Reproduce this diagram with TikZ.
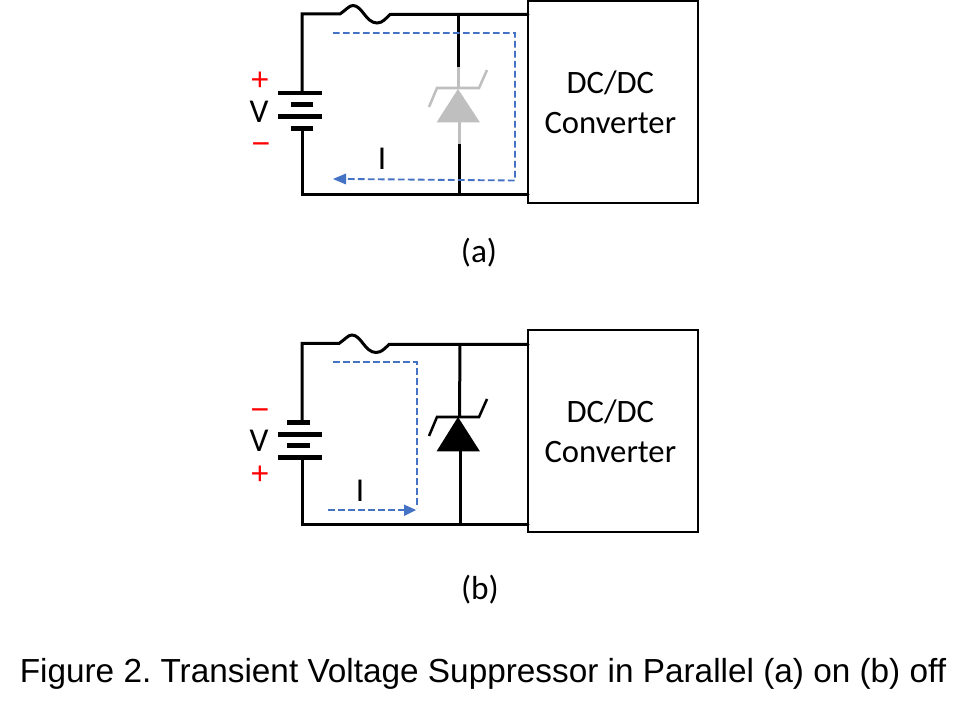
\documentclass[tikz,border=0pt]{standalone}
\usepackage{fontspec}
\setmainfont{Carlito}
\newfontfamily\capfont{Liberation Sans}
\usetikzlibrary{arrows.meta}
\definecolor{flow}{HTML}{4472C4}
\definecolor{offgrey}{HTML}{BFBFBF}
\tikzset{
 x=0.75pt,y=-0.75pt,
 wire/.style={line width=2.25pt,black,line cap=round},
 thin wire/.style={line width=1.9pt,black},
 battlong/.style={line width=3.3pt,black},
 flowline/.style={line width=1.4pt,flow,dash pattern=on 5pt off 2.5pt},
 flowtip/.style={flow,line width=0pt,fill=flow},
 conv/.style={draw=black,line width=1.4pt,fill=white,minimum width=127.5pt,minimum height=151.5pt,inner sep=0pt,align=center,font=\fontsize{24.5}{30}\selectfont},
 lab/.style={inner sep=0pt,font=\fontsize{25}{28}\selectfont},
 sublab/.style={inner sep=0pt,font=\fontsize{25}{28}\selectfont},
 sign/.style={inner sep=0pt,text=red,font=\capfont\fontsize{24}{24}\selectfont},
 captext/.style={inner sep=0pt,font=\capfont\fontsize{25}{28}\selectfont},
}
\begin{document}
\frenchspacing
\begin{tikzpicture}
\useasboundingbox[fill=white] (0,0) rectangle (968,712);

% ---------- (a) ----------
\node[conv] (boxa) at (613,102) {DC/DC\kern4pt\\Converter\kern4pt};
\coordinate (atl) at (302,14);
\coordinate (abl) at (302,194.5);
\coordinate (afa) at (340,14);
\coordinate (afb) at (390,14.5);
\coordinate (atr) at (528,14.5);
\coordinate (abr) at (528,194.5);
\coordinate (ab1) at (302,93);
\coordinate (ab4) at (302,128);
\coordinate (atvt) at (458.5,14.5);
\coordinate (atvg) at (458.5,67);
\coordinate (atva) at (458.5,89);
\coordinate (atvb) at (459.5,122);
\coordinate (atvc) at (459.5,144);
\coordinate (atvd) at (459.5,194.5);
\draw[wire] (ab1) -- (atl) -- (afa)
  .. controls (346,10) and (349,5.5) .. (353,5.5)
  .. controls (362,5.5) and (366,23) .. (377,23)
  .. controls (383,23) and (386,18) .. (afb) -- (atr);
\draw[wire] (ab4) -- (abl) -- (abr);
\draw[battlong] (278,93) -- (322,93) (278,116.5) -- (322,116.5);
\draw[battlong] (291,104.5) -- (313,104.5) (291,128.5) -- (313,128.5);
\draw[wire,line cap=butt] (atvt) -- (atvg);
\draw[wire,line cap=butt] (atvc) -- (atvd);
\draw[line width=2.25pt,offgrey] (atvg) -- (atva) (atvb) -- (atvc);
\draw[line width=1.9pt,offgrey] (429,107) -- (437,88) -- (479,88) -- (487,70);
\fill[offgrey] (458,89) -- (480,122.5) -- (436.5,122.5) -- cycle;
\coordinate (afs) at (333,33);
\coordinate (afc1) at (515,33);
\coordinate (afc2) at (515,180.5);
\coordinate (afe) at (345,179);
\coordinate (aft) at (333,179);
\draw[flowline] (afs) -- (afc1) -- (afc2) -- (afe);
\fill[flowtip] (aft) -- (346,173.5) -- (346,184.5) -- cycle;
\node[sign] (ap) at (260,81.5) {+};
\node[lab] (av) at (259,112) {V};
\node[sign] (am) at (261,149) {−};
\node[lab] (ai) at (382,159) {I};
\node[sublab] (la) at (479,253) {(a)};

% ---------- (b) ----------
\node[conv] (boxb) at (613,431) {DC/DC\kern4pt\\Converter\kern4pt};
\coordinate (btl) at (302,343.5);
\coordinate (bbl) at (302,524.5);
\coordinate (bfa) at (339,343.5);
\coordinate (bfb) at (389,344.5);
\coordinate (btr) at (528,344.5);
\coordinate (bbr) at (528,524.5);
\coordinate (bb1) at (302,422);
\coordinate (bb4) at (302,458);
\coordinate (btvt) at (460,344.5);
\coordinate (btva) at (459.5,417);
\coordinate (btvb) at (460,451);
\coordinate (btvd) at (460,524.5);
\draw[wire] (bb1) -- (btl) -- (bfa)
  .. controls (345,339.5) and (348,335) .. (352,335)
  .. controls (361,335) and (365,352.5) .. (376,352.5)
  .. controls (382,352.5) and (385,348) .. (bfb) -- (btr);
\draw[wire] (bb4) -- (bbl) -- (bbr);
\draw[battlong] (278,434.5) -- (322,434.5) (278,457.5) -- (322,457.5);
\draw[battlong] (287,422.5) -- (310,422.5) (287,445.5) -- (310,445.5);
\draw[wire,line cap=butt] (btvt) -- (btva);
\draw[wire,line cap=butt] (btvb) -- (btvd);
\draw[thin wire] (429,436) -- (437,417) -- (479,417) -- (487,399);
\fill[black] (458,417) -- (480,451.5) -- (436.5,451.5) -- cycle;
\coordinate (bfs) at (333,362);
\coordinate (bfc1) at (417,362);
\coordinate (bfc2) at (417,508);
\coordinate (bfg) at (328,510);
\coordinate (bfe) at (405,510);
\coordinate (bft) at (416,510);
\draw[flowline] (bfs) -- (bfc1) -- (bfc2);
\draw[flowline] (bfg) -- (bfe);
\fill[flowtip] (bft) -- (404,504.5) -- (404,516) -- cycle;
\node[sign] (bm) at (260,415) {−};
\node[lab] (bv) at (259,441) {V};
\node[sign] (bp) at (260,475.5) {+};
\node[lab] (bi) at (360,491) {I};
\node[sublab] (lb) at (480,589.5) {(b)};

\node[captext] (caption) at (483,674) {Figure 2. Transient Voltage Suppressor in Parallel (a) on (b) off};
\end{tikzpicture}
\end{document}
